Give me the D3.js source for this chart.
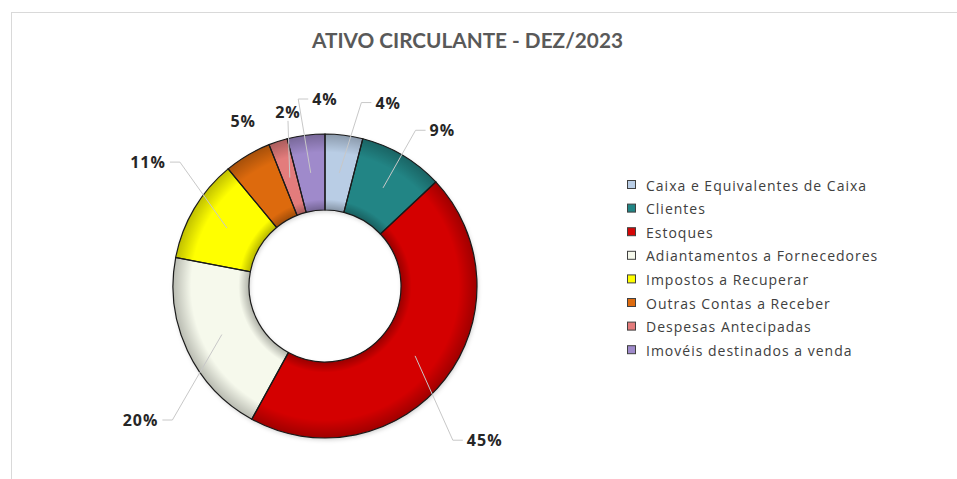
<!DOCTYPE html>
<html>
<head>
<meta charset="utf-8">
<script src="https://cdn.jsdelivr.net/npm/d3@7"></script>
<style>
  body { margin: 0; background: #fff; }
</style>
</head>
<body>
<div id="chart"></div>
<script>
// ativo circulante - dez/2023, donut

var categories = ["Caixa e Equivalentes de Caixa", "Clientes", "Estoques", "Adiantamentos a Fornecedores",
                  "Impostos a Recuperar", "Outras Contas a Receber", "Despesas Antecipadas", "Imovéis destinados a venda"];
var values = [4, 9, 45, 20, 11, 5, 2, 4];
var colors = ["#b9cde5", "#218585", "#d40606", "#f6f9ec", "#ffff00", "#dd6b0f", "#e37b7b", "#9f8acb"];
// label placement (degrees clockwise from top, distance from centre), like excel labels dragged by hand
var labelAngle = [19, 37, 134, 234, 305, 333.6, 348, 0];
var labelDist = [194, 195, 222, 228, 216, 184, 178, 187];
var showLeader = [true, true, true, true, true, false, true, true];

var W = 957, H = 479;
var cx = 325, cy = 286, R = 152, r0 = 76;

var svg = d3.select("#chart").append("svg").attr("width", W).attr("height", H);
var defs = svg.append("defs");

// ring shading (darker rim inside and outside), gradient in the ring group's own coords
var grad = defs.append("radialGradient").attr("id", "shade").attr("gradientUnits", "userSpaceOnUse")
  .attr("cx", 0).attr("cy", 0).attr("r", R);
grad.append("stop").attr("offset", r0 / R).attr("stop-color", "#000").attr("stop-opacity", 0.28);
grad.append("stop").attr("offset", r0 / R + 0.07).attr("stop-color", "#000").attr("stop-opacity", 0);
grad.append("stop").attr("offset", 0.88).attr("stop-color", "#000").attr("stop-opacity", 0);
grad.append("stop").attr("offset", 1).attr("stop-color", "#000").attr("stop-opacity", 0.25);

var ds = defs.append("filter").attr("id", "drop").attr("x", "-10%").attr("y", "-10%").attr("width", "130%").attr("height", "130%");
ds.append("feDropShadow").attr("dx", 1).attr("dy", 2).attr("stdDeviation", 2).attr("flood-color", "#000").attr("flood-opacity", 0.18);

// frame
svg.append("line").attr("x1", 11).attr("x2", W).attr("y1", 12.5).attr("y2", 12.5).attr("stroke", "#d9d9d9");
svg.append("line").attr("x1", 11.5).attr("x2", 11.5).attr("y1", 12).attr("y2", H).attr("stroke", "#d9d9d9");

svg.append("text").attr("x", 467.5).attr("y", 48).attr("text-anchor", "middle")
  .attr("textLength", 311).attr("lengthAdjust", "spacingAndGlyphs")
  .style("font-family", "Lato").style("font-weight", "bold").style("font-size", "21px").style("fill", "#595959")
  .text("ATIVO CIRCULANTE - DEZ/2023");

var pie = d3.pie().sort(null).value(function(d){ return d; });
var arcs = pie(values);
var total = d3.sum(values);
var arc = d3.arc().innerRadius(r0).outerRadius(R);

var g = svg.append("g").attr("transform", "translate(" + cx + "," + cy + ")");
g.append("g").attr("filter", "url(#drop)").selectAll("path").data(arcs).enter().append("path")
  .attr("d", arc).attr("fill", function(d, i){ return colors[i]; });
g.selectAll("path.shade").data(arcs).enter().append("path").attr("class", "shade")
  .attr("d", arc).attr("fill", "url(#shade)");
g.selectAll("path.edge").data(arcs).enter().append("path").attr("class", "edge")
  .attr("d", arc).attr("fill", "none").attr("stroke", "#1a1a1a").attr("stroke-width", 1.2);

// data labels
var fmt = function(v){ return Math.round(v / total * 100) + "%"; };
var lab = svg.append("g");
arcs.forEach(function(d, i){
  var a = labelAngle[i] * Math.PI / 180;
  var lx = cx + labelDist[i] * Math.sin(a), ly = cy - labelDist[i] * Math.cos(a);
  var t = lab.append("text").attr("x", lx).attr("y", ly).attr("text-anchor", "middle").attr("dominant-baseline", "central")
    .style("font-family", "Open Sans").style("font-weight", "bold").style("font-size", "16px").style("letter-spacing", "1px")
    .style("fill", "#262626").text(fmt(d.value));
  if (!showLeader[i]) return;
  var b = t.node().getBBox();
  var c = arc.centroid(d); c = [c[0] + cx, c[1] + cy];
  var pts;
  if (c[0] >= b.x && c[0] <= b.x + b.width) {
    var yy = c[1] > ly ? b.y + b.height - 2 : b.y + 2;
    pts = [c, [lx, yy]];
  } else if (c[0] < b.x) {
    pts = [c, [b.x - 14, ly], [b.x - 4, ly]];
  } else {
    pts = [c, [b.x + b.width + 14, ly], [b.x + b.width + 4, ly]];
  }
  lab.insert("path", "text").attr("d", d3.line()(pts)).attr("fill", "none").attr("stroke", "#c8c8c8").attr("stroke-width", 1);
});

// legend
var leg = svg.append("g").attr("transform", "translate(627,185)");
var row = leg.selectAll("g").data(categories).enter().append("g")
  .attr("transform", function(d, i){ return "translate(0," + (i * 23.6) + ")"; });
row.append("rect").attr("x", 0.5).attr("y", -4.5).attr("width", 8).attr("height", 8)
  .attr("fill", function(d, i){ return colors[i]; }).attr("stroke", "#404040").attr("stroke-width", 1);
row.append("text").attr("x", 19).attr("y", 0).attr("dominant-baseline", "central")
  .style("font-family", "Open Sans").style("font-size", "14px").style("fill", "#404040").style("letter-spacing", "1px")
  .text(function(d){ return d; });
</script>
</body>
</html>
